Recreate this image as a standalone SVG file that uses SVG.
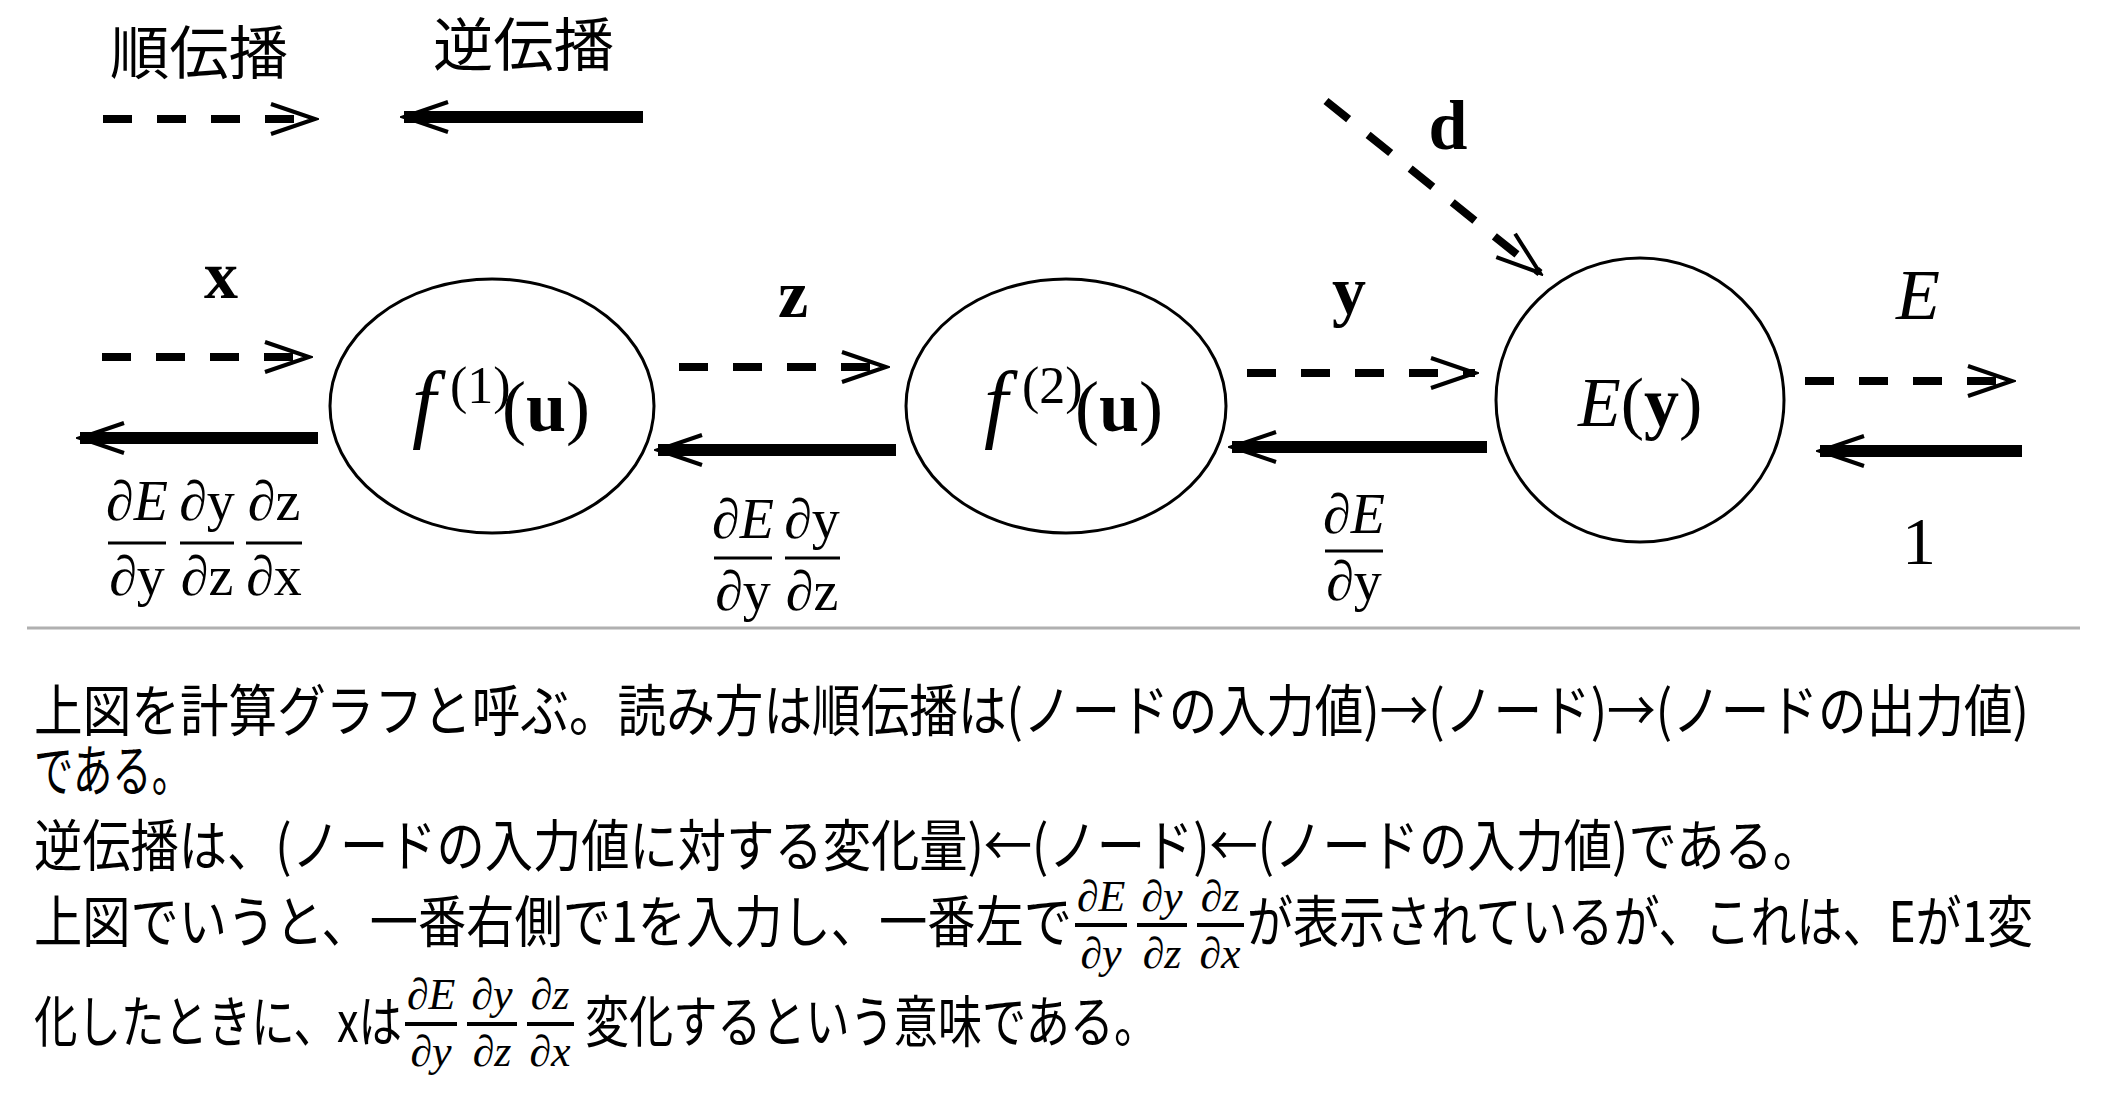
<svg xmlns="http://www.w3.org/2000/svg" width="2104" height="1103" viewBox="0 0 2104 1103">
<style>
.jp{font-family:"Noto Sans CJK JP","Noto Sans",sans-serif;fill:#000}
.m{font-family:"Liberation Serif","DejaVu Serif",serif;fill:#000}
.it{font-style:italic}
.bd{font-weight:bold}
.node{fill:#fff;stroke:#000;stroke-width:3}
.fw{fill:none;stroke:#000;stroke-width:8;stroke-dasharray:29 25;marker-end:url(#ah)}
.bw{fill:none;stroke:#000;stroke-width:12;marker-end:url(#ah)}
.bar{stroke:#000;stroke-width:3}
.tbar{stroke:#000;stroke-width:4}
</style>
<defs>
<marker id="ah" markerUnits="userSpaceOnUse" viewBox="-50 -20 54 40" refX="0" refY="0" markerWidth="54" markerHeight="40" orient="auto">
<path d="M-44,-15 L0,0 L-44,15" fill="none" stroke="#000" stroke-width="4"/>
</marker>
</defs>
<rect width="2104" height="1103" fill="#fff"/>

<g id="legend">
<text class="jp" x="110" y="74" font-size="58" textLength="178" lengthAdjust="spacingAndGlyphs">順伝播</text>
<text class="jp" x="433" y="66" font-size="58" textLength="181" lengthAdjust="spacingAndGlyphs">逆伝播</text>
<path class="fw" d="M103,119 H315"/>
<path class="bw" d="M643,117 H404"/>
</g>

<g id="connectors">
<path class="fw" d="M102,357 H309"/>
<path class="bw" d="M318,438 H80"/>
<path class="fw" d="M679,367 H886"/>
<path class="bw" d="M896,450 H658"/>
<path class="fw" d="M1247,373 H1475"/>
<path class="bw" d="M1487,447 H1232"/>
<path class="fw" d="M1805,381 H2012"/>
<path class="bw" d="M2022,451 H1820"/>
<path class="fw" d="M1326,101 L1540,273"/>
</g>

<g id="labels">
<text class="m bd" x="221" y="298" font-size="68" text-anchor="middle">x</text>
<text class="m bd" x="793" y="317" font-size="68" text-anchor="middle">z</text>
<text class="m bd" x="1349" y="314" font-size="68" text-anchor="middle">y</text>
<text class="m bd" x="1448" y="149" font-size="70" text-anchor="middle">d</text>
<text class="m it" x="1918" y="319" font-size="72" text-anchor="middle">E</text>
<text class="m" x="1919" y="564" font-size="68" text-anchor="middle">1</text>
</g>

<g id="frac-left">
<text class="m" font-size="56" text-anchor="middle" x="137" y="520"><tspan class="it">∂E</tspan></text>
<line class="bar" x1="108" y1="543" x2="166" y2="543"/>
<text class="m" font-size="56" text-anchor="middle" x="137" y="595"><tspan class="it">∂</tspan>y</text>
<text class="m" font-size="56" text-anchor="middle" x="207" y="520"><tspan class="it">∂</tspan>y</text>
<line class="bar" x1="180" y1="543" x2="234" y2="543"/>
<text class="m" font-size="56" text-anchor="middle" x="207" y="595"><tspan class="it">∂</tspan>z</text>
<text class="m" font-size="56" text-anchor="middle" x="274" y="520"><tspan class="it">∂</tspan>z</text>
<line class="bar" x1="246" y1="543" x2="302" y2="543"/>
<text class="m" font-size="56" text-anchor="middle" x="274" y="595"><tspan class="it">∂</tspan>x</text>
</g>

<g id="frac-mid">
<text class="m" font-size="56" text-anchor="middle" x="743" y="538"><tspan class="it">∂E</tspan></text>
<line class="bar" x1="714" y1="558" x2="772" y2="558"/>
<text class="m" font-size="56" text-anchor="middle" x="743" y="610"><tspan class="it">∂</tspan>y</text>
<text class="m" font-size="56" text-anchor="middle" x="812" y="538"><tspan class="it">∂</tspan>y</text>
<line class="bar" x1="785" y1="558" x2="840" y2="558"/>
<text class="m" font-size="56" text-anchor="middle" x="812" y="610"><tspan class="it">∂</tspan>z</text>
</g>

<g id="frac-right">
<text class="m" font-size="56" text-anchor="middle" x="1354" y="533"><tspan class="it">∂E</tspan></text>
<line class="bar" x1="1325" y1="551" x2="1383" y2="551"/>
<text class="m" font-size="56" text-anchor="middle" x="1354" y="600"><tspan class="it">∂</tspan>y</text>
</g>

<g id="node-f1">
<ellipse class="node" cx="492" cy="406" rx="162" ry="127"/>
<text class="m" y="431" font-size="72"><tspan class="it" x="412" font-size="86">f</tspan><tspan x="450" y="403" font-size="52">(1)</tspan><tspan x="502" y="431">(</tspan><tspan class="bd">u</tspan>)</text>
</g>
<g id="node-f2">
<ellipse class="node" cx="1066" cy="406" rx="160" ry="127"/>
<text class="m" y="431" font-size="72"><tspan class="it" x="984" font-size="86">f</tspan><tspan x="1022" y="403" font-size="52">(2)</tspan><tspan x="1075" y="431">(</tspan><tspan class="bd">u</tspan>)</text>
</g>
<g id="node-E">
<ellipse class="node" cx="1640" cy="400" rx="144" ry="142"/>
<text class="m" x="1578" y="426" font-size="70"><tspan class="it">E</tspan>(<tspan class="bd">y</tspan>)</text>
</g>

<line x1="27" y1="628" x2="2080" y2="628" stroke="#b0b0b0" stroke-width="3"/>

<g id="text-block">
<text class="jp" x="34" y="731" font-size="56" textLength="1995" lengthAdjust="spacingAndGlyphs">上図を計算グラフと呼ぶ。読み方は順伝播は(ノードの入力値)→(ノード)→(ノードの出力値)</text>
<text class="jp" x="34" y="791" font-size="56" textLength="157" lengthAdjust="spacingAndGlyphs">である。</text>
<text class="jp" x="34" y="866" font-size="56" textLength="1787" lengthAdjust="spacingAndGlyphs">逆伝播は、(ノードの入力値に対する変化量)←(ノード)←(ノードの入力値)である。</text>
<text class="jp" x="34" y="942" font-size="56" textLength="1038" lengthAdjust="spacingAndGlyphs">上図でいうと、一番右側で1を入力し、一番左で</text>
<text class="jp" x="1247" y="942" font-size="56" textLength="786" lengthAdjust="spacingAndGlyphs">が表示されているが、これは、Eが1変</text>
<text class="jp" x="34" y="1042" font-size="56" textLength="368" lengthAdjust="spacingAndGlyphs">化したときに、xは</text>
<text class="jp" x="585" y="1042" font-size="56" textLength="573" lengthAdjust="spacingAndGlyphs">変化するという意味である。</text>
<g class="m it" font-size="44" text-anchor="middle">
<text x="1101" y="911">∂E</text><text x="1101" y="968">∂y</text>
<text x="1162" y="911">∂y</text><text x="1162" y="968">∂z</text>
<text x="1220" y="911">∂z</text><text x="1220" y="968">∂x</text>
<text x="431" y="1009">∂E</text><text x="431" y="1066">∂y</text>
<text x="492" y="1009">∂y</text><text x="492" y="1066">∂z</text>
<text x="550" y="1009">∂z</text><text x="550" y="1066">∂x</text>
</g>
<g class="tbar">
<line x1="1075" y1="925" x2="1127" y2="925"/>
<line x1="1137" y1="925" x2="1187" y2="925"/>
<line x1="1197" y1="925" x2="1244" y2="925"/>
<line x1="405" y1="1024" x2="457" y2="1024"/>
<line x1="467" y1="1024" x2="517" y2="1024"/>
<line x1="527" y1="1024" x2="574" y2="1024"/>
</g>
</g>
</svg>
